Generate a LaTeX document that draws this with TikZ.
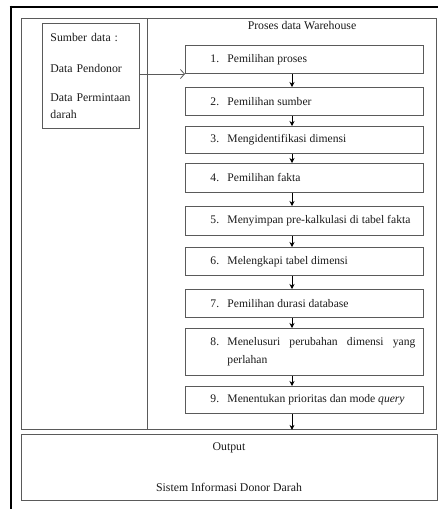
\documentclass[tikz,border=0pt]{standalone}
\usepackage{fontspec}
\setmainfont{Liberation Serif}
\usetikzlibrary{arrows.meta}
\definecolor{linegray}{HTML}{5A5A5A}
\definecolor{txt}{HTML}{1A1A1A}
\newcommand{\stepitem}[2]{\parbox{238pt}{\fontsize{11.6}{18.5}\selectfont\hyphenpenalty=10000\exhyphenpenalty=10000\leftskip=25pt\rightskip=8pt\parfillskip=0pt plus 1fil\hangindent=17pt\hangafter=1\noindent\makebox[17pt][l]{#1}#2\par}}
\tikzset{
  stepbox/.style={draw=linegray, line width=0.9pt, anchor=north west, minimum width=238pt, inner xsep=0pt, inner ysep=0pt, text=txt},
  framebox/.style={draw=linegray, line width=0.9pt, anchor=north west, inner sep=0pt},
  darr/.style={draw=black, line width=0.7pt, -{Stealth[length=5pt,width=5pt]}},
  sarr/.style={draw=linegray, line width=0.8pt, -{Straight Barb[length=4pt,width=9pt]}},
  plain/.style={font=\fontsize{11.8}{17}\selectfont, text=txt, inner sep=0pt}
}
\begin{document}
\begin{tikzpicture}[x=1pt,y=-1pt]
\useasboundingbox (0,0) rectangle (440,509);
% outer thick lines
\draw[line width=2.6pt, black] (9.7,7) -- (438,7);
\draw[line width=2.6pt, black] (11,5.7) -- (11,509);
% main frame
\node[framebox, minimum width=415pt, minimum height=411pt] (frame) at (21,18) {};
\coordinate (divtop) at (147,18);
\draw[draw=linegray, line width=0.9pt] (divtop) -- (divtop |- frame.south);
% output box
\node[framebox, minimum width=416pt, minimum height=66pt] (out) at (21,434) {};
\node[plain] (outlbl) at (229,448) {Output};
\node[plain] (outsys) at (229,487) {Sistem Informasi Donor Darah};
% source box
\node[framebox, minimum width=97pt, minimum height=105pt, text width=81pt, inner xsep=8pt, align=left, font=\fontsize{11.8}{17}\selectfont, text=txt] (src) at (42,23)
  {Sumber data :\\[14pt]Data Pendonor\\[12pt]Data Permintaan\\darah};
% title
\node[plain] (title) at (302,25) {Proses data Warehouse};
% steps
\node[stepbox, minimum height=28pt] (b1) at (185,45) {\stepitem{1.}{Pemilihan proses}};
\node[stepbox, minimum height=28pt] (b2) at (185,87) {\stepitem{2.}{Pemilihan sumber}};
\node[stepbox, minimum height=27pt] (b3) at (185,126) {\stepitem{3.}{Mengidentifikasi dimensi}};
\node[stepbox, minimum height=29pt] (b4) at (185,163) {\stepitem{4.}{Pemilihan fakta}};
\node[stepbox, minimum height=29pt] (b5) at (185,206) {\stepitem{5.}{Menyimpan pre-kalkulasi di tabel fakta}};
\node[stepbox, minimum height=28pt] (b6) at (185,247) {\stepitem{6.}{Melengkapi tabel dimensi}};
\node[stepbox, minimum height=28pt] (b7) at (185,289) {\stepitem{7.}{Pemilihan durasi database}};
\node[stepbox, minimum height=47pt] (b8) at (185,328) {\stepitem{8.}{Menelusuri perubahan dimensi yang perlahan}};
\node[stepbox, minimum height=27pt] (b9) at (185,386) {\stepitem{9.}{Menentukan prioritas dan mode \textit{query}}};
% arrows
\coordinate (ax) at (292,0);
\coordinate (ay) at (0,74);
\draw[sarr] (src.east |- ay) -- (b1.west |- ay);
\foreach \a/\b in {b1/b2,b2/b3,b3/b4,b4/b5,b5/b6,b6/b7,b7/b8,b8/b9}
  \draw[darr] (\a.south -| ax) -- (\b.north -| ax);
\draw[darr] (b9.south -| ax) -- (frame.south -| ax);
\end{tikzpicture}
\end{document}
